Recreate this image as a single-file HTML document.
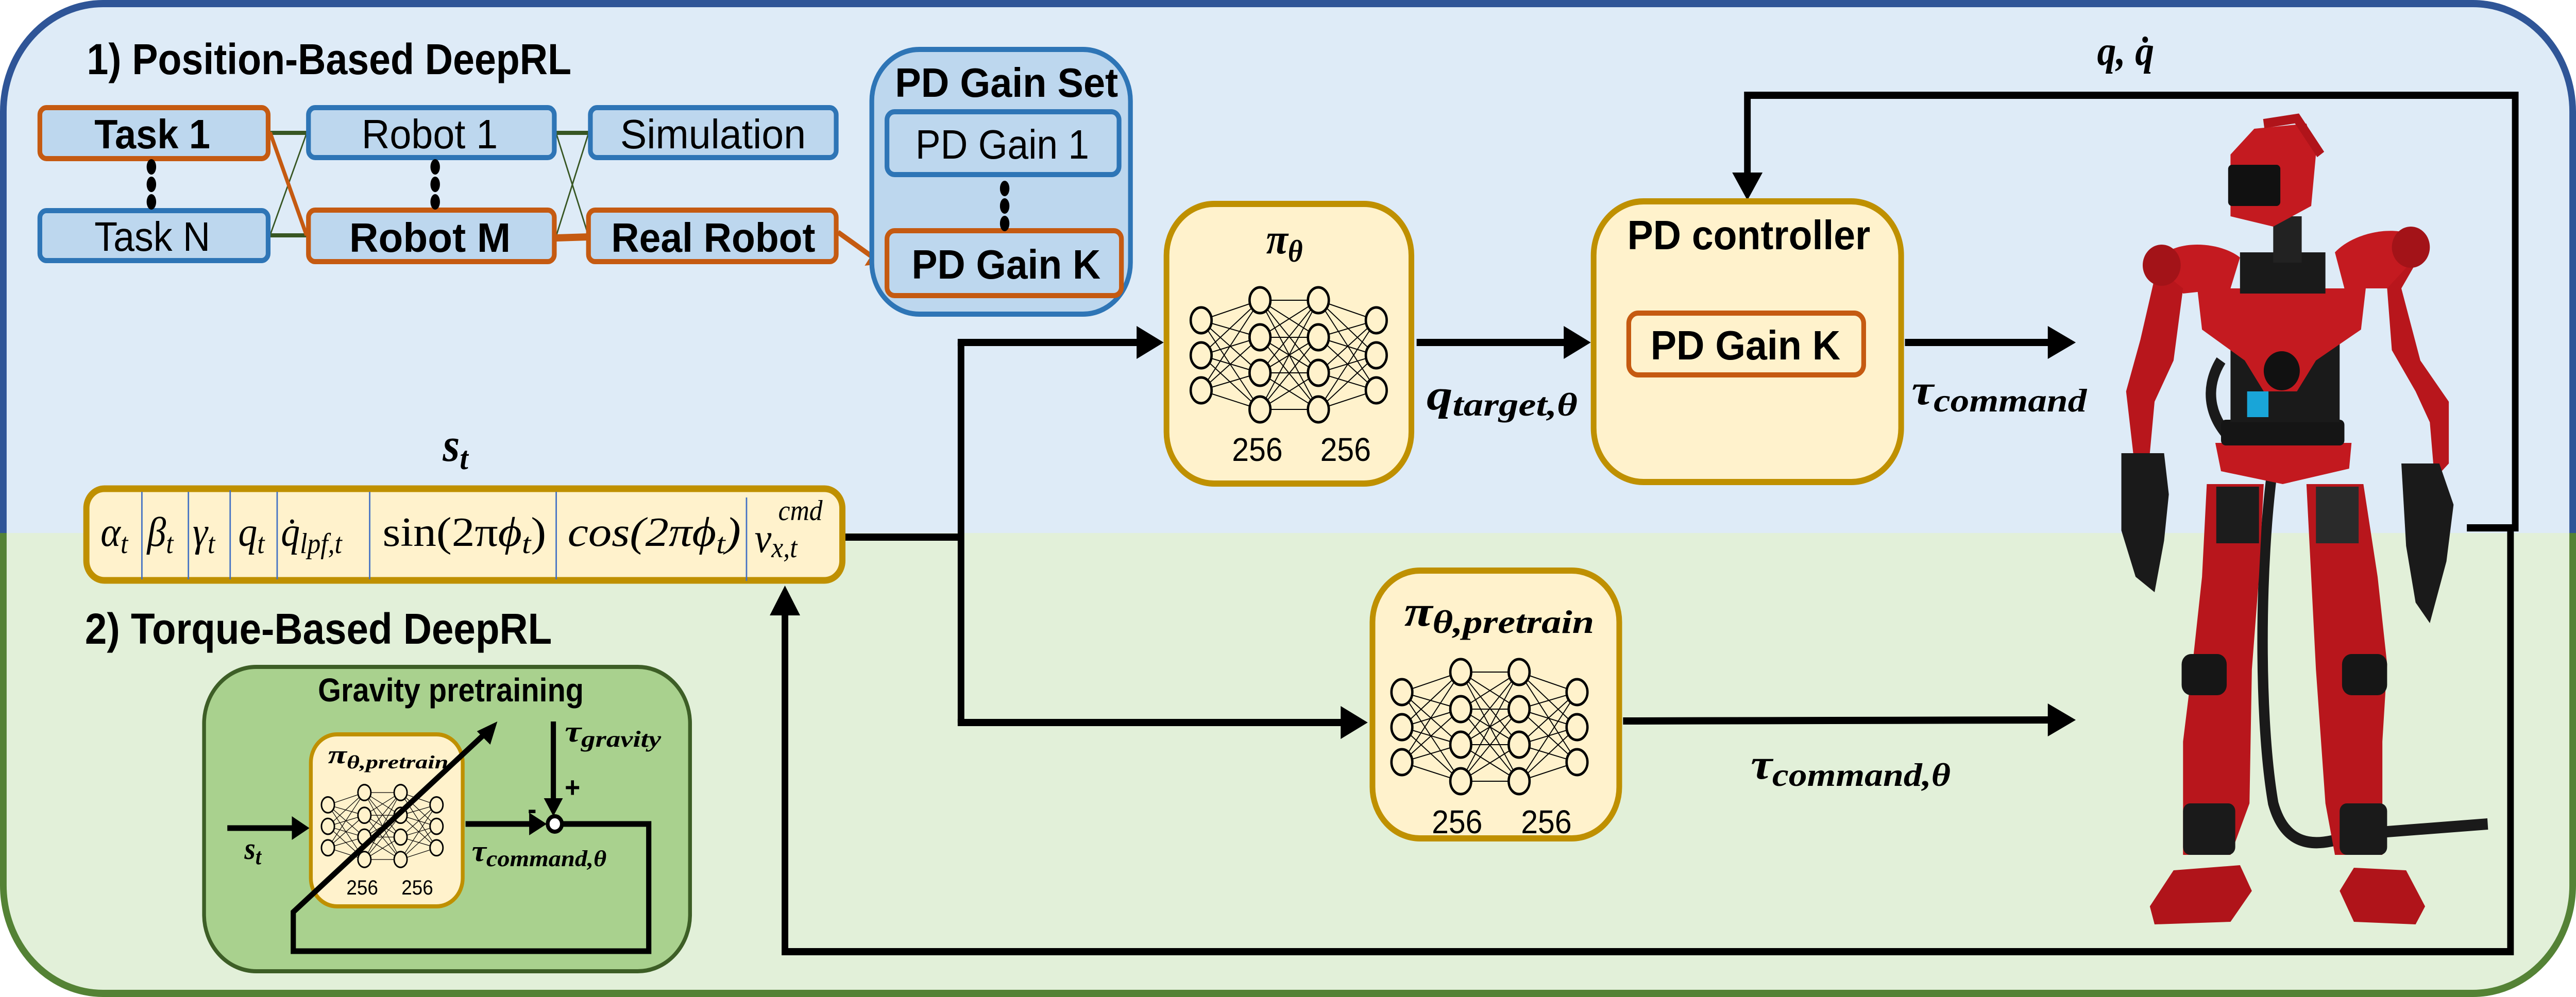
<!DOCTYPE html>
<html><head><meta charset="utf-8"><style>html,body{margin:0;padding:0;background:#fff;width:100%;height:100%;overflow:hidden}svg{display:block;width:100vw;height:100vh}</style></head>
<body>
<svg xmlns="http://www.w3.org/2000/svg" xmlns:xlink="http://www.w3.org/1999/xlink" viewBox="0 0 5428 1936" preserveAspectRatio="none">
<defs>
<clipPath id="ctop"><rect x="0" y="0" width="5428" height="1035"/></clipPath>
<clipPath id="cbot"><rect x="0" y="1035" width="5428" height="901"/></clipPath>
<g id="nn" fill="none" stroke="#000">
 <g stroke-width="2">
  <path d="M0 39L124 0M0 39L124 72M0 39L124 141M0 39L124 212M0 107L124 0M0 107L124 72M0 107L124 141M0 107L124 212M0 175L124 0M0 175L124 72M0 175L124 141M0 175L124 212"/>
  <path d="M124 0L247 0M124 0L247 72M124 0L247 141M124 0L247 212M124 72L247 0M124 72L247 72M124 72L247 141M124 72L247 212M124 141L247 0M124 141L247 72M124 141L247 141M124 141L247 212M124 212L247 0M124 212L247 72M124 212L247 141M124 212L247 212"/>
  <path d="M247 0L369 39M247 0L369 107M247 0L369 175M247 72L369 39M247 72L369 107M247 72L369 175M247 141L369 39M247 141L369 107M247 141L369 175M247 212L369 39M247 212L369 107M247 212L369 175"/>
 </g>
 <g fill="#fff2cc" stroke-width="5">
  <ellipse cx="0" cy="39" rx="22" ry="25"/><ellipse cx="0" cy="107" rx="22" ry="25"/><ellipse cx="0" cy="175" rx="22" ry="25"/>
  <ellipse cx="124" cy="0" rx="22" ry="25"/><ellipse cx="124" cy="72" rx="22" ry="25"/><ellipse cx="124" cy="141" rx="22" ry="25"/><ellipse cx="124" cy="212" rx="22" ry="25"/>
  <ellipse cx="247" cy="0" rx="22" ry="25"/><ellipse cx="247" cy="72" rx="22" ry="25"/><ellipse cx="247" cy="141" rx="22" ry="25"/><ellipse cx="247" cy="212" rx="22" ry="25"/>
  <ellipse cx="369" cy="39" rx="22" ry="25"/><ellipse cx="369" cy="107" rx="22" ry="25"/><ellipse cx="369" cy="175" rx="22" ry="25"/>
 </g>
</g>
</defs>

<rect x="7" y="7" width="5414" height="1922" rx="210" fill="#deebf7" stroke="#2f5597" stroke-width="14" clip-path="url(#ctop)"/>
<rect x="7" y="7" width="5414" height="1922" rx="210" fill="#e2f0d9" stroke="#548235" stroke-width="14" clip-path="url(#cbot)"/>

<g font-family="Liberation Sans Narrow, Liberation Sans, sans-serif">
<text x="183" y="144" font-size="84" font-weight="bold" textLength="1021" lengthAdjust="spacingAndGlyphs">1) Position-Based DeepRL</text>
<text x="179" y="1250" font-size="84" font-weight="bold" textLength="984" lengthAdjust="spacingAndGlyphs">2) Torque-Based DeepRL</text>

<g stroke="#375623" stroke-width="3" fill="none">
 <line x1="569" y1="258" x2="646" y2="258" stroke-width="8"/>
 <line x1="569" y1="457" x2="646" y2="457" stroke-width="8"/>
 <line x1="569" y1="457" x2="646" y2="259"/>
 <line x1="1172" y1="258" x2="1240" y2="258" stroke-width="8"/>
 <line x1="1172" y1="259" x2="1240" y2="458"/>
 <line x1="1172" y1="458" x2="1240" y2="259"/>
</g>
<g stroke="#c55a11" fill="none">
 <line x1="569" y1="257" x2="646" y2="457" stroke-width="8"/>
 <line x1="1172" y1="462" x2="1240" y2="460" stroke-width="14"/>
 <line x1="1766" y1="451" x2="1840" y2="500" stroke-width="10"/>
</g>
<polygon points="1822,516 1865,511 1848,478" fill="#c55a11"/>

<g fill="#bdd7ee" stroke-width="10">
 <rect x="84" y="209" width="481" height="99" rx="14" stroke="#c55a11"/>
 <rect x="84" y="409" width="481" height="97" rx="14" stroke="#2e75b6"/>
 <rect x="650" y="209" width="518" height="97" rx="14" stroke="#2e75b6"/>
 <rect x="650" y="408" width="518" height="100" rx="14" stroke="#c55a11"/>
 <rect x="1244" y="209" width="518" height="97" rx="14" stroke="#2e75b6"/>
 <rect x="1240" y="408" width="522" height="100" rx="14" stroke="#c55a11"/>
 <rect x="1837" y="96" width="545" height="514" rx="100" stroke="#2e75b6"/>
 <rect x="1869" y="217" width="489" height="122" rx="16" stroke="#2e75b6"/>
 <rect x="1869" y="448" width="494" height="126" rx="16" stroke="#c55a11"/>
</g>
<g fill="#000">
 <ellipse cx="319" cy="324" rx="10" ry="15"/><ellipse cx="319" cy="358" rx="10" ry="15"/><ellipse cx="319" cy="392" rx="10" ry="15"/>
 <ellipse cx="917" cy="324" rx="10" ry="15"/><ellipse cx="917" cy="358" rx="10" ry="15"/><ellipse cx="917" cy="392" rx="10" ry="15"/>
 <ellipse cx="2117" cy="366" rx="10" ry="15"/><ellipse cx="2117" cy="400" rx="10" ry="15"/><ellipse cx="2117" cy="434" rx="10" ry="15"/>
</g>
<g font-size="80">
 <text x="199" y="288" font-weight="bold" textLength="244" lengthAdjust="spacingAndGlyphs">Task 1</text>
 <text x="199" y="487" textLength="244" lengthAdjust="spacingAndGlyphs">Task N</text>
 <text x="762" y="288" textLength="287" lengthAdjust="spacingAndGlyphs">Robot 1</text>
 <text x="736" y="489" font-weight="bold" textLength="340" lengthAdjust="spacingAndGlyphs">Robot M</text>
 <text x="1307" y="288" textLength="391" lengthAdjust="spacingAndGlyphs">Simulation</text>
 <text x="1288" y="489" font-weight="bold" textLength="430" lengthAdjust="spacingAndGlyphs">Real Robot</text>
 <text x="1886" y="188" font-weight="bold" textLength="470" lengthAdjust="spacingAndGlyphs">PD Gain Set</text>
 <text x="1929" y="308" textLength="366" lengthAdjust="spacingAndGlyphs">PD Gain 1</text>
 <text x="1921" y="541" font-weight="bold" textLength="398" lengthAdjust="spacingAndGlyphs">PD Gain K</text>
</g>

<g stroke="#000" stroke-width="14" fill="none">
 <polyline points="1781,1043 2025,1043"/>
 <polyline points="2025,665 2025,1403"/>
 <polyline points="2018,665 2400,665"/>
 <polyline points="2018,1403 2830,1403"/>
 <polyline points="2985,665 3300,665"/>
 <polyline points="4014,665 4320,665"/>
 <polyline points="3420,1400 4320,1398"/>
 <polyline points="3682,185 5300,185 5300,1025 5198,1025"/>
 <polyline points="5290,1025 5290,1848 1654,1848 1654,1190"/>
 <polyline points="3682,178 3682,340"/>
</g>
<g fill="#000">
 <polygon points="2395,633 2452,665 2395,697"/>
 <polygon points="2825,1371 2882,1403 2825,1435"/>
 <polygon points="3295,633 3352,665 3295,697"/>
 <polygon points="4315,633 4374,665 4315,697"/>
 <polygon points="4315,1366 4374,1398 4315,1430"/>
 <polygon points="3650,335 3682,389 3714,335"/>
 <polygon points="1622,1195 1654,1137 1686,1195"/>
</g>

<rect x="182" y="949" width="1593" height="178" rx="38" fill="#fff2cc" stroke="#bf9000" stroke-width="13"/>
<g stroke="#4472c4" stroke-width="3">
 <line x1="299" y1="955" x2="299" y2="1125"/><line x1="397" y1="955" x2="397" y2="1125"/>
 <line x1="485" y1="952" x2="485" y2="1125"/><line x1="584" y1="955" x2="584" y2="1125"/>
 <line x1="779" y1="955" x2="779" y2="1125"/><line x1="1172" y1="955" x2="1172" y2="1125"/>
 <line x1="1573" y1="966" x2="1573" y2="1128"/>
</g>
</g>

<g font-family="Liberation Serif, serif" font-size="80" font-style="italic">
 <text x="212" y="1060">α<tspan font-size="56" dy="14">t</tspan></text>
 <text x="310" y="1060">β<tspan font-size="56" dy="14">t</tspan></text>
 <text x="406" y="1060">γ<tspan font-size="56" dy="14">t</tspan></text>
 <text x="502" y="1060">q<tspan font-size="56" dy="14">t</tspan></text>
 <text x="592" y="1060">q̇<tspan font-size="56" dy="14">lpf,t</tspan></text>
 <text x="806" y="1060" textLength="345" lengthAdjust="spacingAndGlyphs"><tspan font-style="normal">sin(2π</tspan>ϕ<tspan font-size="56" dy="14">t</tspan><tspan dy="-14" font-style="normal">)</tspan></text>
 <text x="1196" y="1060" textLength="365" lengthAdjust="spacingAndGlyphs">cos(2πϕ<tspan font-size="56" dy="14">t</tspan><tspan dy="-14">)</tspan></text>
 <text x="1590" y="1072">v<tspan font-size="56" dy="10">x,t</tspan></text>
 <text x="1640" y="1010" font-size="56">cmd</text>
</g>

<rect x="2458" y="396" width="516" height="543" rx="100" fill="#fff2cc" stroke="#bf9000" stroke-width="12"/>
<use xlink:href="#nn" x="2531" y="583"/>
<rect x="3358" y="391" width="648" height="545" rx="105" fill="#fff2cc" stroke="#bf9000" stroke-width="12"/>
<rect x="3432" y="608" width="495" height="120" rx="20" fill="#fff2cc" stroke="#c55a11" stroke-width="10"/>
<rect x="2892" y="1108" width="520" height="520" rx="100" fill="#fff2cc" stroke="#bf9000" stroke-width="12"/>
<use xlink:href="#nn" x="2954" y="1305"/>

<rect x="430" y="1295" width="1024" height="591" rx="110" fill="#a9d18e" stroke="#3d5e26" stroke-width="8"/>
<rect x="655" y="1426" width="320" height="334" rx="55" fill="#fff2cc" stroke="#bf9000" stroke-width="8"/>
<g transform="translate(691,1539) scale(0.62,0.613)"><use xlink:href="#nn"/></g>
<g stroke="#000" stroke-width="11" fill="none">
 <line x1="479" y1="1608" x2="620" y2="1608"/>
 <line x1="981" y1="1600" x2="1120" y2="1600"/>
 <line x1="1166" y1="1401" x2="1166" y2="1555"/>
 <polyline points="1185,1600 1367,1600 1367,1847 618,1847 618,1771 1025,1422"/>
</g>
<circle cx="1169" cy="1600" r="15" fill="#fff" stroke="#000" stroke-width="8"/>
<g fill="#000">
 <polygon points="615,1585 652,1608 615,1631"/>
 <polygon points="1115,1578 1152,1600 1115,1622"/>
 <polygon points="1146,1550 1166,1585 1186,1550"/>
 <polygon points="1005,1420 1048,1401 1033,1446"/>
</g>

<g font-family="Liberation Sans Narrow, Liberation Sans, sans-serif">
 <text x="3429" y="484" font-size="80" font-weight="bold" textLength="512" lengthAdjust="spacingAndGlyphs">PD controller</text>
 <text x="3478" y="698" font-size="80" font-weight="bold" textLength="400" lengthAdjust="spacingAndGlyphs">PD Gain K</text>
 <text x="670" y="1362" font-size="64" font-weight="bold" textLength="560" lengthAdjust="spacingAndGlyphs">Gravity pretraining</text>
 <g font-size="64"><text x="2596" y="895">256</text><text x="2782" y="895">256</text>
 <text x="3017" y="1618">256</text><text x="3205" y="1618">256</text></g>
 <g font-size="40"><text x="730" y="1737">256</text><text x="846" y="1737">256</text></g>
 <text x="1112" y="1590" font-size="56" font-weight="bold">-</text>
 <text x="1190" y="1548" font-size="56" font-weight="bold">+</text>
</g>

<g font-family="Liberation Serif, serif" font-weight="bold" font-style="italic">
 <text x="933" y="895" font-size="92">s<tspan font-size="64" dy="16">t</tspan></text>
 <text x="2668" y="492" font-size="84">π<tspan font-size="60" dy="16">θ</tspan></text>
 <text x="3006" y="795" font-size="84" textLength="318" lengthAdjust="spacingAndGlyphs">q<tspan font-size="64" dy="12">target,θ</tspan></text>
 <text x="4028" y="785" font-size="84" textLength="369" lengthAdjust="spacingAndGlyphs">τ<tspan font-size="64" dy="14">command</tspan></text>
 <text x="2959" y="1215" font-size="84" textLength="400" lengthAdjust="spacingAndGlyphs">π<tspan font-size="64" dy="14">θ,pretrain</tspan></text>
 <text x="3689" y="1512" font-size="84" textLength="421" lengthAdjust="spacingAndGlyphs">τ<tspan font-size="64" dy="14">command,θ</tspan></text>
 <text x="4419" y="126" font-size="80">q, q̇</text>
 <text x="691" y="1482" font-size="50" textLength="254" lengthAdjust="spacingAndGlyphs">π<tspan font-size="36" dy="10">θ,pretrain</tspan></text>
 <text x="994" y="1672" font-size="58" textLength="284" lengthAdjust="spacingAndGlyphs">τ<tspan font-size="44" dy="10">command,θ</tspan></text>
 <text x="1190" y="1440" font-size="58" textLength="203" lengthAdjust="spacingAndGlyphs">τ<tspan font-size="44" dy="10">gravity</tspan></text>
 <text x="515" y="1668" font-size="60">s<tspan font-size="44" dy="10">t</tspan></text>
</g>

<g>
 <path d="M4790 900 C4760 1100 4760 1400 4790 1560 C4820 1660 4900 1640 4960 1620 L5242 1600" fill="none" stroke="#1a1a1a" stroke-width="22"/>
 <path d="M4710 860 C4660 820 4640 760 4680 700" fill="none" stroke="#1a1a1a" stroke-width="22"/>
 <path d="M4650 940 L4770 940 L4760 1120 L4745 1300 L4740 1560 L4700 1660 L4600 1660 L4600 1440 L4620 1290 L4640 1120 Z" fill="#b8161c"/>
 <path d="M4860 940 L4980 940 L5010 1120 L5030 1290 L5020 1440 L5020 1660 L4920 1660 L4900 1560 L4880 1300 L4870 1120 Z" fill="#b8161c"/>
 <rect x="4670" y="945" width="90" height="110" fill="#1c1c1c"/>
 <rect x="4880" y="945" width="90" height="110" fill="#2a2a2a"/>
 <rect x="4597" y="1270" width="95" height="80" rx="20" fill="#161616"/>
 <rect x="4935" y="1270" width="95" height="80" rx="20" fill="#161616"/>
 <rect x="4600" y="1560" width="110" height="100" rx="15" fill="#1a1a1a"/>
 <rect x="4930" y="1560" width="100" height="100" rx="15" fill="#1a1a1a"/>
 <polygon points="4530,1760 4580,1690 4720,1680 4745,1730 4700,1790 4540,1795" fill="#b0141a"/>
 <polygon points="4930,1730 4960,1685 5070,1690 5110,1760 5090,1795 4960,1790" fill="#b0141a"/>
 <path d="M4668 860 L4955 860 L4950 910 L4810 940 L4680 915 Z" fill="#c3191f"/>
 <rect x="4680" y="815" width="260" height="50" rx="10" fill="#151515"/>
 <rect x="4700" y="610" width="230" height="210" fill="#1a1a1a"/>
 <path d="M4630 560 L4985 560 L4975 640 L4880 700 L4840 760 L4770 760 L4730 700 L4640 640 Z" fill="#c41a20"/>
 <circle cx="4808" cy="720" r="38" fill="#111"/>
 <rect x="4720" y="490" width="180" height="80" fill="#1a1a1a"/>
 <rect x="4735" y="760" width="45" height="50" fill="#19a5d8"/>
 <path d="M4540 510 C4580 460 4680 470 4720 500 L4700 560 L4600 570 Z" fill="#c41a20"/>
 <path d="M5110 470 C5060 430 4960 450 4920 490 L4940 560 L5050 560 Z" fill="#c41a20"/>
 <path d="M4545 520 L4600 560 L4580 700 L4540 780 L4530 880 L4495 880 L4480 760 L4510 660 Z" fill="#b8161c"/>
 <path d="M5110 480 L5060 560 L5100 700 L5160 780 L5160 900 L5130 930 L5120 820 L5090 760 L5040 680 L5030 560 Z" fill="#b8161c"/>
 <circle cx="4555" cy="515" r="40" fill="#a31318"/>
 <circle cx="5080" cy="480" r="40" fill="#a31318"/>
 <path d="M4470 880 L4560 880 L4570 960 L4560 1050 L4540 1150 L4500 1120 L4470 1030 Z" fill="#1a1a1a"/>
 <path d="M5060 900 L5140 900 L5170 980 L5155 1090 L5120 1210 L5090 1170 L5070 1060 Z" fill="#1a1a1a"/>
 <rect x="4790" y="420" width="60" height="90" fill="#222"/>
 <path d="M4700 300 L4750 250 L4860 240 L4880 300 L4870 400 L4790 440 L4700 420 Z" fill="#c41a20"/>
 <path d="M4770 240 L4840 230 L4890 300" fill="none" stroke="#b0141a" stroke-width="18"/>
 <rect x="4695" y="320" width="110" height="80" rx="8" fill="#111"/>
</g>
</svg>
</body></html>
